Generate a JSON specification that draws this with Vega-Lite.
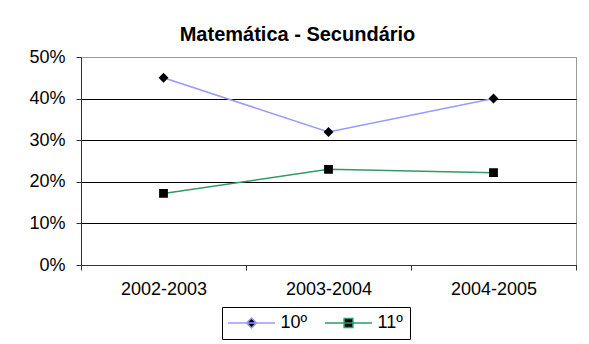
{
  "$schema": "https://vega.github.io/schema/vega-lite/v6.json",
  "width": 495,
  "height": 208,
  "autosize": "none",
  "padding": {"left": 81, "top": 57, "right": 13, "bottom": 79},
  "background": "white",
  "title": {
    "text": "Matemática - Secundário",
    "font": "Liberation Sans",
    "fontSize": 20,
    "fontWeight": "bold",
    "color": "black",
    "anchor": "middle",
    "dx": -31,
    "offset": 3
  },
  "data": {
    "values": [
      {"ano": "2002-2003", "serie": "10º", "valor": 0.45},
      {"ano": "2003-2004", "serie": "10º", "valor": 0.32},
      {"ano": "2004-2005", "serie": "10º", "valor": 0.40},
      {"ano": "2002-2003", "serie": "11º", "valor": 0.172},
      {"ano": "2003-2004", "serie": "11º", "valor": 0.23},
      {"ano": "2004-2005", "serie": "11º", "valor": 0.222}
    ]
  },
  "config": {
    "view": {"stroke": "#999999", "strokeWidth": 1},
    "font": "Liberation Sans",
    "axis": {
      "labelFont": "Liberation Sans",
      "labelFontSize": 18,
      "labelColor": "black",
      "domainColor": "#333333",
      "tickColor": "#333333",
      "tickSize": 5,
      "title": null
    }
  },
  "layer": [
    {
      "mark": {"type": "line", "strokeWidth": 1.5},
      "encoding": {
        "x": {
          "field": "ano",
          "type": "nominal",
          "scale": {"type": "band", "paddingInner": 0, "paddingOuter": 0},
          "axis": {"labelAngle": 0, "tickBand": "extent", "labelPadding": 10, "grid": false}
        },
        "y": {
          "field": "valor",
          "type": "quantitative",
          "scale": {"domain": [0, 0.5], "nice": false},
          "axis": {
            "values": [0, 0.1, 0.2, 0.3, 0.4, 0.5],
            "format": ".0%",
            "labelPadding": 11,
            "grid": true,
            "gridColor": {"condition": {"test": "datum.value >= 0.5", "value": "#999999"}, "value": "black"},
            "gridWidth": 1
          }
        },
        "color": {
          "field": "serie",
          "type": "nominal",
          "scale": {"domain": ["10º", "11º"], "range": ["#9999ff", "#339966"]},
          "legend": {
            "title": null,
            "orient": "none",
            "legendX": 141,
            "legendY": 250,
            "direction": "horizontal",
            "strokeColor": "black",
            "fillColor": "white",
            "padding": 7,
            "symbolSize": 100,
            "symbolOffset": 13.5,
            "symbolStrokeWidth": 1.5,
            "labelFontSize": 18,
            "labelFont": "Liberation Sans",
            "labelColor": "black",
            "labelOffset": 20,
            "columnPadding": 14,
            "encode": {
              "symbols": {
                "update": {
                  "strokeWidth": {"value": 1.5},
                  "fill": {"value": "black"}
                }
              }
            }
          }
        }
      }
    },
    {
      "mark": {"type": "point", "filled": true, "opacity": 1, "color": "black", "size": 100},
      "encoding": {
        "x": {"field": "ano", "type": "nominal"},
        "y": {"field": "valor", "type": "quantitative"},
        "shape": {
          "field": "serie",
          "type": "nominal",
          "scale": {"domain": ["10º", "11º"], "range": ["M-4.7,0H4.7M0,-1L1,0L0,1L-1,0Z", "M-4.7,0H4.7M-0.88,-0.88H0.88V0.88H-0.88Z"]},
          "legend": null
        }
      }
    }
  ]
}
